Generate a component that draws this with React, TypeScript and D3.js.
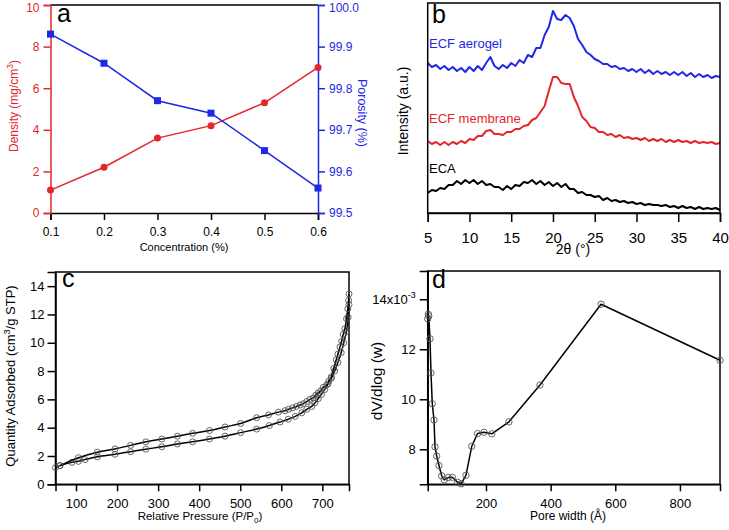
import { useRef, useEffect } from 'react'
import * as d3 from 'd3'

const FONT = '"Liberation Sans", Arial, Helvetica, sans-serif'
const RED = '#e3262b'
const BLUE = '#1e28e6'

// a: density / porosity vs concentration
const concentration = [0.1, 0.2, 0.3, 0.4, 0.5, 0.6]
const density = [1.1, 2.2, 3.6, 4.2, 5.3, 7.0]
const porosity = [99.93, 99.86, 99.77, 99.74, 99.65, 99.56]
const densityTicks = [0, 2, 4, 6, 8, 10]
const porosityTicks = [99.5, 99.6, 99.7, 99.8, 99.9, 100.0]

// b: XRD patterns, 2theta from 5 to 40 in 0.5 steps (offset intensities)
const thetaStart = 5
const thetaStep = 0.5
const aerogel = [
  150, 146, 148, 144, 147, 143, 146, 142, 145, 141,
  146, 142, 147, 143, 150, 156, 147, 144, 148, 145,
  150, 147, 153, 150, 158, 156, 165, 165, 178, 186,
  202, 194, 193, 198, 195, 187, 174, 168, 161, 158,
  154, 152, 149, 149, 146, 147, 144, 145, 142, 144,
  141, 144, 140, 143, 139, 142, 139, 141, 138, 141,
  138, 141, 137, 140, 136, 139, 136, 138, 135, 137,
  136,
]
const membrane = [
  72, 69, 71, 68, 71, 68, 71, 69, 72, 70,
  74, 73, 77, 77, 82, 83, 79, 79, 78, 81,
  81, 84, 84, 87, 88, 93, 95, 101, 107, 122,
  136, 136, 130, 129, 129, 116, 107, 96, 92, 86,
  85, 81, 81, 78, 79, 76, 78, 75, 76, 74,
  75, 73, 75, 72, 74, 72, 74, 71, 73, 71,
  73, 71, 72, 70, 72, 70, 71, 70, 71, 69,
  70,
]
const eca = [
  20, 23, 22, 25, 24, 28, 28, 32, 29, 33,
  30, 33, 29, 32, 28, 29, 26, 26, 23, 27,
  24, 28, 27, 31, 30, 33, 29, 32, 28, 31,
  27, 30, 26, 29, 24, 24, 20, 21, 18, 18,
  16, 17, 13, 15, 12, 13, 11, 12, 10, 11,
  9, 10, 8, 9, 8, 8, 7, 8, 6, 7,
  5, 7, 5, 6, 4, 6, 4, 5, 4, 5,
  3,
]
const xrdTicks = [5, 10, 15, 20, 25, 30, 35, 40]

// c: N2 isotherm
const adsP = [50, 61, 90, 106, 122, 152, 195, 233, 270, 309, 347, 384, 425, 463, 501, 540, 571, 597, 617, 634, 650, 662, 674, 682, 690, 698, 706, 714, 722, 730, 738, 746, 752, 759, 763, 765]
const adsQ = [1.18, 1.32, 1.55, 1.62, 1.75, 1.94, 2.12, 2.3, 2.48, 2.65, 2.85, 3.0, 3.2, 3.4, 3.65, 3.9, 4.15, 4.4, 4.6, 4.8, 5.05, 5.3, 5.5, 5.75, 6.05, 6.35, 6.7, 7.1, 7.5, 8.0, 8.6, 9.3, 10.0, 10.8, 11.8, 12.7]
const desP = [765, 764, 762, 759, 755, 751, 747, 743, 738, 734, 728, 722, 716, 710, 702, 696, 690, 684, 678, 670, 662, 654, 646, 637, 628, 618, 609, 593, 569, 540, 501, 463, 425, 384, 347, 309, 270, 233, 195, 152, 106, 61]
const desQ = [13.45, 13.0, 12.4, 11.7, 11.0, 10.6, 10.1, 9.7, 9.2, 8.8, 8.2, 7.6, 7.3, 7.0, 6.85, 6.6, 6.45, 6.3, 6.1, 6.0, 5.85, 5.7, 5.6, 5.5, 5.4, 5.3, 5.2, 5.1, 4.9, 4.7, 4.3, 4.05, 3.8, 3.6, 3.4, 3.2, 3.0, 2.75, 2.5, 2.27, 1.88, 1.32]
const isoXTicks = [100, 200, 300, 400, 500, 600, 700]
const isoYTicks = [0, 2, 4, 6, 8, 10, 12, 14]

// d: pore size distribution (dV/dlog(w), x10^-3)
const poreWidth = [19.7, 21.5, 23, 26.8, 29.9, 33.9, 39.2, 42.3, 47.5, 54.6, 63, 71, 83, 96, 112, 123, 138, 156, 174, 194, 218, 271, 367, 556, 924]
const poreDv = [13.22, 13.4, 13.33, 12.42, 11.05, 9.82, 9.17, 8.1, 7.73, 7.35, 6.94, 6.78, 6.87, 6.88, 6.68, 6.62, 6.96, 8.12, 8.63, 8.68, 8.62, 9.1, 10.57, 13.8, 11.56]
const poreXTicks = [200, 400, 600, 800]
const poreYTicks = [8, 10, 12, 14]

type Sel = d3.Selection<any, any, any, any>

function paint(g: Sel, color: string, size: number) {
  g.attr('font-family', FONT).attr('font-size', size)
  g.select('.domain').attr('stroke', color).attr('stroke-width', 1.5)
  g.selectAll('.tick line').attr('stroke', color).attr('stroke-width', 1.5)
  g.selectAll('.tick text').attr('fill', color)
}

function title(g: Sel, x: number, y: number, rot: number, size: number, color: string, parts: [string, string?][]) {
  const t = g
    .append('text')
    .attr('transform', `translate(${x},${y}) rotate(${rot})`)
    .attr('text-anchor', 'middle')
    .attr('font-family', FONT)
    .attr('font-size', size)
    .attr('fill', color)
  let shift = 0
  parts.forEach(([s, kind]) => {
    const target = kind === 'sup' ? -size * 0.4 : kind === 'sub' ? size * 0.3 : 0
    t.append('tspan')
      .text(s)
      .attr('dy', target - shift)
      .attr('font-size', kind ? size * 0.7 : size)
    shift = target
  })
}

function letter(g: Sel, s: string, x: number, y: number) {
  g.append('text').text(s).attr('x', x).attr('y', y).attr('font-family', FONT).attr('font-size', 25).attr('fill', '#000')
}

function drawA(svg: Sel) {
  const g = svg.append('g')
  const x = d3.scaleLinear().domain([0.1, 0.6]).range([50.5, 318])
  const yL = d3.scaleLinear().domain([0, 10]).range([213, 5])
  const yR = d3.scaleLinear().domain([99.5, 100]).range([213, 5])

  g.append('line')
    .attr('x1', x(0.1)).attr('x2', x(0.6))
    .attr('y1', yL(10)).attr('y2', yL(10))
    .attr('stroke', '#000').attr('stroke-width', 1.5)

  const bx = g.append('g').attr('transform', 'translate(0,213)')
    .call(d3.axisBottom(x).tickValues(concentration).tickFormat(d3.format('.1f')).tickSizeOuter(0).tickSize(7).tickPadding(7))
  paint(bx, '#000', 12)

  const ly = g.append('g').attr('transform', `translate(${x(0.1)},0)`)
    .call(d3.axisLeft(yL).tickValues(densityTicks).tickSizeOuter(0).tickSize(7).tickPadding(4))
  paint(ly, RED, 12)

  const ry = g.append('g').attr('transform', `translate(${x(0.6)},0)`)
    .call(d3.axisRight(yR).tickValues(porosityTicks).tickFormat(d3.format('.1f')).tickSizeOuter(0).tickSize(7).tickPadding(4))
  paint(ry, BLUE, 12)

  // keep the top labels inside the picture
  ly.selectAll('.tick text').filter((d) => d === 10).attr('dy', '0.5em')
  ry.selectAll('.tick text').filter((d) => d === 100).attr('dy', '0.5em')

  const redLine = d3.line<number>().x((_, i) => x(concentration[i])).y((d) => yL(d))
  g.append('path').attr('d', redLine(density)).attr('fill', 'none').attr('stroke', RED).attr('stroke-width', 1.5)
  g.selectAll('.dot').data(density).enter().append('circle')
    .attr('cx', (_, i) => x(concentration[i])).attr('cy', (d) => yL(d)).attr('r', 3.5).attr('fill', RED)

  const blueLine = d3.line<number>().x((_, i) => x(concentration[i])).y((d) => yR(d))
  g.append('path').attr('d', blueLine(porosity)).attr('fill', 'none').attr('stroke', BLUE).attr('stroke-width', 1.5)
  g.selectAll('.sq').data(porosity).enter().append('rect')
    .attr('x', (_, i) => x(concentration[i]) - 3.5).attr('y', (d) => yR(d) - 3.5)
    .attr('width', 7).attr('height', 7).attr('fill', BLUE)

  title(g, 184, 251, 0, 11, '#000', [['Concentration (%)']])
  title(g, 18, 106, -90, 12, RED, [['Density (mg/cm'], ['3', 'sup'], [')']])
  title(g, 358, 113, 90, 12.5, BLUE, [['Porosity (%)']])
  letter(g, 'a', 57, 22)
}

function drawB(svg: Sel) {
  const g = svg.append('g')
  const x = d3.scaleLinear().domain([5, 40]).range([427.7, 720])
  const y = d3.scaleLinear().domain([0, 210]).range([213, 3])

  const line = d3.line<number>().x((_, i) => x(thetaStart + i * thetaStep)).y((d) => y(d))
  ;([
    [aerogel, BLUE],
    [membrane, RED],
    [eca, '#000'],
  ] as [number[], string][]).forEach(([data, color]) => {
    g.append('path').attr('d', line(data)).attr('fill', 'none').attr('stroke', color).attr('stroke-width', 2).attr('stroke-linejoin', 'round')
  })

  g.append('rect').attr('x', 427.7).attr('y', 3).attr('width', 292.3).attr('height', 210)
    .attr('fill', 'none').attr('stroke', '#000').attr('stroke-width', 1.5)
  const bx = g.append('g').attr('transform', 'translate(0,213)')
    .call(d3.axisBottom(x).tickValues(xrdTicks).tickSizeOuter(0).tickSize(9).tickPadding(10))
  paint(bx, '#000', 15)

  const lab = (s: string, yy: number, c: string) =>
    g.append('text').text(s).attr('x', 429).attr('y', yy).attr('font-family', FONT).attr('font-size', 13).attr('fill', c)
  lab('ECF aerogel', 48, BLUE)
  lab('ECF membrane', 123, RED)
  lab('ECA', 173, '#000')

  title(g, 573, 254, 0, 14, '#000', [['2θ (°)']])
  title(g, 408, 111, -90, 14, '#000', [['Intensity (a.u.)']])
  letter(g, 'b', 432, 23)
}

function drawC(svg: Sel) {
  const g = svg.append('g')
  const x = d3.scaleLinear().domain([50, 765]).range([55.5, 349])
  const y = d3.scaleLinear().domain([0, 15]).range([484.3, 272])

  g.append('rect').attr('x', 55.5).attr('y', 272).attr('width', 349 - 55.5).attr('height', 484.3 - 272)
    .attr('fill', 'none').attr('stroke', '#000').attr('stroke-width', 1.5)
  const bx = g.append('g').attr('transform', 'translate(0,484.3)')
    .call(d3.axisBottom(x).tickValues(isoXTicks).tickSizeOuter(0).tickSize(7).tickPadding(7))
  paint(bx, '#000', 13)
  const ly = g.append('g').attr('transform', 'translate(55.5,0)')
    .call(d3.axisLeft(y).tickValues(isoYTicks).tickSizeOuter(0).tickSize(8).tickPadding(3))
  paint(ly, '#000', 13)

  ;([
    [adsP, adsQ],
    [desP, desQ],
  ] as [number[], number[]][]).forEach(([px, qy]) => {
    const line = d3.line<number>().x((d) => x(d)).y((_, i) => y(qy[i])).curve(d3.curveCatmullRom)
    g.append('path').attr('d', line(px)).attr('fill', 'none').attr('stroke', '#000').attr('stroke-width', 1.5)
    g.append('g').selectAll('circle').data(px).enter().append('circle')
      .attr('cx', (d) => x(d)).attr('cy', (_, i) => y(qy[i])).attr('r', 3)
      .attr('fill', 'none').attr('stroke', '#555').attr('stroke-width', 0.9)
  })

  title(g, 200, 520, 0, 11.5, '#000', [['Relative Pressure (P/P'], ['0', 'sub'], [')']])
  title(g, 15, 376, -90, 13, '#000', [['Quantity Adsorbed (cm'], ['3', 'sup'], ['/g  STP)']])
  letter(g, 'c', 62, 287)
}

function drawD(svg: Sel) {
  const g = svg.append('g')
  const x = d3.scaleLinear().domain([19.7, 924]).range([427.7, 720])
  const y = d3.scaleLinear().domain([6.6, 15.13]).range([484.3, 271])

  g.append('rect').attr('x', 427.7).attr('y', 271).attr('width', 720 - 427.7).attr('height', 484.3 - 271)
    .attr('fill', 'none').attr('stroke', '#000').attr('stroke-width', 1.5)
  const bx = g.append('g').attr('transform', 'translate(0,484.3)')
    .call(d3.axisBottom(x).tickValues(poreXTicks).tickSizeOuter(0).tickSize(7).tickPadding(7))
  paint(bx, '#000', 13)
  const ly = g.append('g').attr('transform', 'translate(427.7,0)')
    .call(d3.axisLeft(y).tickValues(poreYTicks).tickSizeOuter(0).tickSize(8).tickPadding(4))
  paint(ly, '#000', 13)
  ly.selectAll('.tick text').filter((d) => d === 14).each(function () {
    const t = d3.select(this)
    t.text('')
    t.append('tspan').text('14x10')
    t.append('tspan').text('-3').attr('font-size', 9).attr('dy', -6)
  })

  const line = d3.line<number>().x((d) => x(d)).y((_, i) => y(poreDv[i]))
  g.append('path').attr('d', line(poreWidth)).attr('fill', 'none').attr('stroke', '#000').attr('stroke-width', 1.5).attr('stroke-linejoin', 'round')
  g.append('g').selectAll('circle').data(poreWidth).enter().append('circle')
    .attr('cx', (d) => x(d)).attr('cy', (_, i) => y(poreDv[i])).attr('r', 3.2)
    .attr('fill', 'none').attr('stroke', '#555').attr('stroke-width', 0.9)

  title(g, 568, 520, 0, 12, '#000', [['Pore width (Å)']])
  title(g, 382, 381, -90, 15.5, '#000', [['dV/dlog (w)']])
  letter(g, 'd', 432, 288)
}

const App = () => {
  const svgRef = useRef<SVGSVGElement>(null)

  useEffect(() => {
    const svg = d3.select(svgRef.current)
    svg.selectAll('*').remove()
    drawA(svg)
    drawB(svg)
    drawC(svg)
    drawD(svg)
  }, [])

  return (
    <svg
      ref={svgRef}
      width={729}
      height={530}
      style={{ position: 'absolute', left: 0, top: 0, background: '#fff' }}
    ></svg>
  )
}

export default App
